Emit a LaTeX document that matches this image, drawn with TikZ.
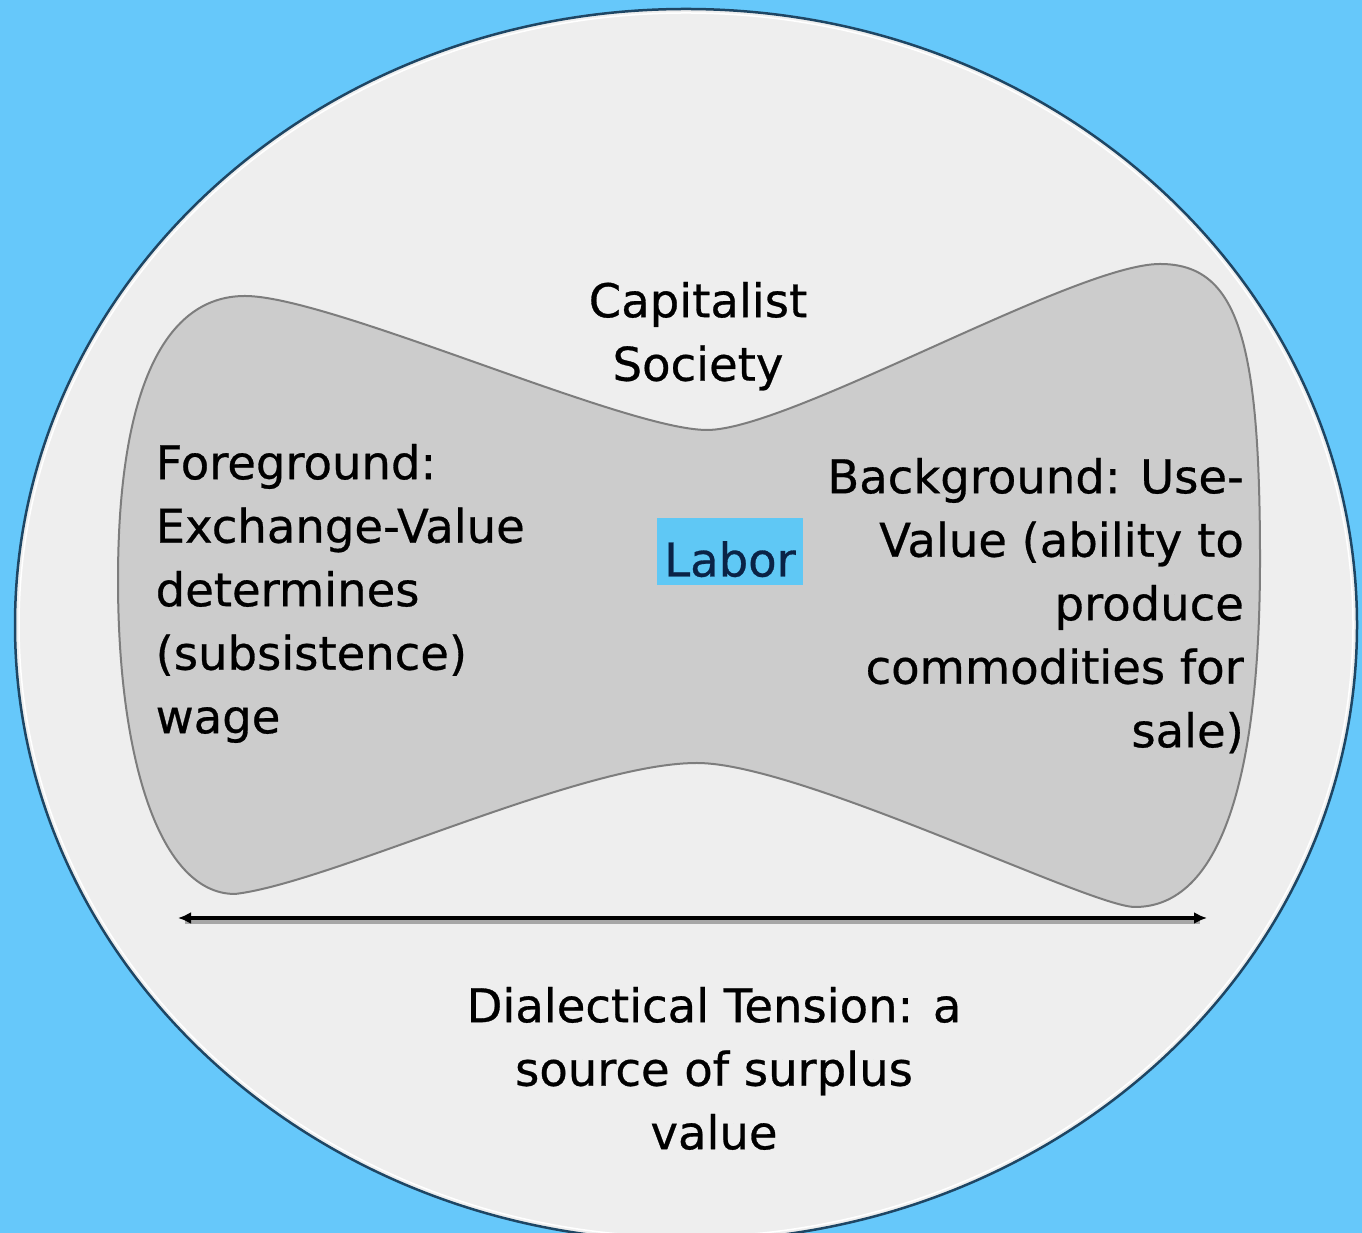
\documentclass[tikz,border=0pt]{standalone}
\usepackage{fontspec}
\setmainfont{DejaVu Sans}
\newfontfamily\lblfont{DejaVu Sans}[FakeBold=0.6]
\usetikzlibrary{arrows.meta}
\definecolor{bgblue}{RGB}{102,200,250}
\definecolor{discfill}{RGB}{238,238,238}
\definecolor{discline}{RGB}{30,70,100}
\definecolor{tiefill}{RGB}{204,204,204}
\definecolor{tieline}{RGB}{125,125,125}
\definecolor{laborbg}{RGB}{95,200,245}
\definecolor{labortext}{RGB}{10,35,70}
\begin{document}
\begin{tikzpicture}[x=1pt,y=1pt,
  lbl/.style={inner sep=0pt, font=\lblfont\fontsize{46.5}{63.5}\selectfont, text=black},
  tieshape/.style={fill=tiefill, draw=tieline, line width=2pt},
  discshape/.style={fill=discfill, draw=discline, line width=2.5pt},
  tensionarrow/.style={line width=4pt, {Latex[length=13,width=12]}-{Latex[length=13,width=12]}},
]
\useasboundingbox (0,0) rectangle (1362,1233);
\fill[bgblue] (0,0) rectangle (1362,1233);
\begin{scope}
  \clip (0,0) rectangle (1362,1233);
  \path[discshape] (686,608) ellipse [x radius=671, y radius=616];
  \draw[white, line width=1.5pt] (686,608) ellipse [x radius=667, y radius=612];
\end{scope}

% bow-tie shaped region
\path[tieshape] (245,937) .. controls (330,937) and (625,803) .. (707,803)
  .. controls (790,803) and (1075,969) .. (1160,969)
  .. controls (1238,969) and (1260,893) .. (1260,673)
  .. controls (1260,453) and (1220,326) .. (1135,326)
  .. controls (1090,326) and (800,470) .. (697,470)
  .. controls (580,470) and (330,350) .. (235,339)
  .. controls (160,339) and (118,473) .. (118,653)
  .. controls (118,833) and (160,937) .. (245,937) -- cycle;

% tension arrow
\coordinate (tl) at (178,315);
\coordinate (tr) at (1207,315);
\coordinate (sl) at (185,311);
\coordinate (sr) at (1200,311);
\draw[line width=4pt, black!35] (sl) -- (sr);
\draw[tensionarrow] (tl) -- (tr);

% texts
\node[lbl, anchor=north, align=center] (cap) at (698,951.3) {Capitalist\\Society};
\node[lbl, anchor=north west, align=left] (fg) at (155.5,789.3)
  {Foreground:\\Exchange-Value\\determines\\(subsistence)\\wage};
\node[lbl, anchor=north east, align=right] (bg) at (1244,775.3)
  {Background: Use-\\Value (ability to\\produce\\commodities for\\sale)};
\node[lbl, fill=laborbg, text=labortext, minimum width=146, minimum height=67,
  text height=50, text depth=0] (labor) at (730,681.5) {Labor};
\node[lbl, anchor=north, align=center] (dt) at (714,246.3)
  {Dialectical Tension: a\\source of surplus\\value};
\end{tikzpicture}
\end{document}
